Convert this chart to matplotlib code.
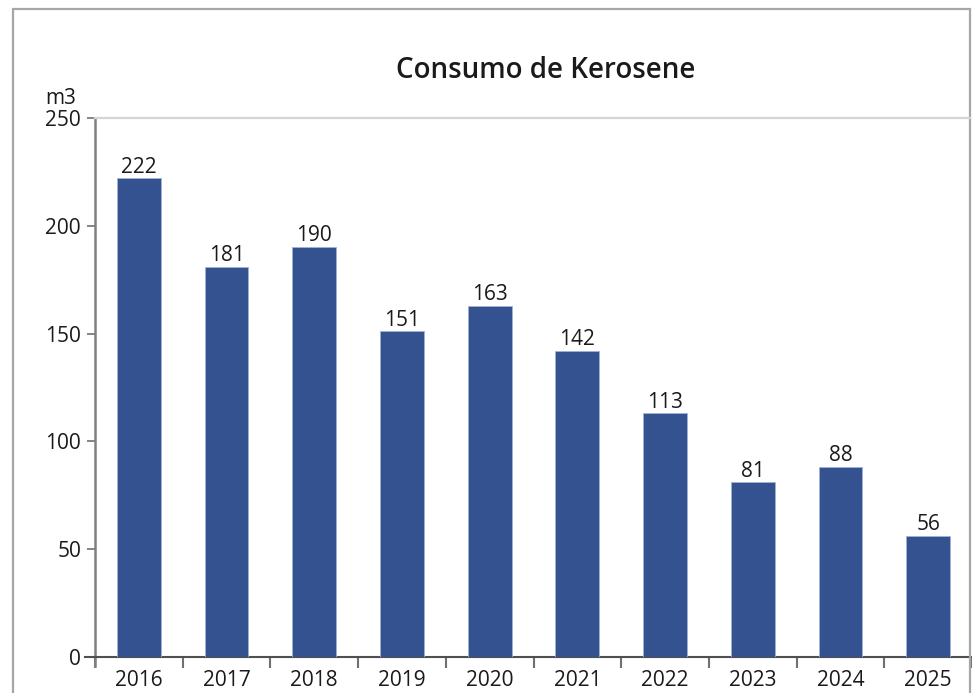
import matplotlib
matplotlib.use("Agg")
import matplotlib.pyplot as plt
from matplotlib.patches import Rectangle
from matplotlib.lines import Line2D

years = ["2016", "2017", "2018", "2019", "2020", "2021", "2022", "2023", "2024", "2025"]
values = [222, 181, 190, 151, 163, 142, 113, 81, 88, 56]
yticks = [0, 50, 100, 150, 200, 250]
title = "Consumo de Kerosene"
unit = "m3"

W, H = 972, 693
fig = plt.figure(figsize=(W / 100, H / 100), dpi=100)
fig.patch.set_facecolor("white")
font = ["Open Sans", "DejaVu Sans"]
tc = "#1a1a1a"
fs = 15

# outer frame
fig.add_artist(Rectangle((13 / W, -0.05), (970 - 13) / W, (H - 9) / H + 0.05,
                         transform=fig.transFigure, fill=False,
                         edgecolor="#a6a6a6", linewidth=1.6))

left, right = 95, 972
top, bottom = 118, 657
ax = fig.add_axes([left / W, (H - bottom) / H, (right - left) / W, (bottom - top) / H])
ax.patch.set_alpha(0)

for s in ["top", "right"]:
    ax.spines[s].set_visible(False)
ax.spines["left"].set_color("#808080")
ax.spines["left"].set_linewidth(1.8)
ax.spines["left"].set_bounds(-4, 250)
ax.spines["bottom"].set_color("#505050")
ax.spines["bottom"].set_linewidth(1.5)
ax.spines["bottom"].set_position(("data", 0))

x = list(range(len(years)))
ax.bar(x, values, width=0.5, color="#34528f", edgecolor="#9fb3d6", linewidth=0.6, zorder=3)
for xi, v in zip(x, values):
    ax.text(xi, v + 0.4, str(v), ha="center", va="bottom", fontsize=fs,
            color=tc, family=font)

ax.set_xlim(-0.5, len(years) - 0.5)
ax.set_ylim(0, 250)
ax.set_yticks(yticks, [str(t) for t in yticks])
ax.set_xticks(x, years)
ax.set_xticks([i + 0.5 for i in range(-1, len(years))], minor=True)
ax.tick_params(axis="both", which="major", labelsize=fs, labelcolor=tc,
               labelfontfamily="Open Sans")
ax.tick_params(axis="x", which="major", length=0, pad=9.5)
ax.tick_params(axis="x", which="minor", length=8, width=1.5, color="#707070", direction="out")
ax.tick_params(axis="y", length=6, width=1.2, color="#707070", pad=4)

# x axis extension to the left and top grey line
fig.add_artist(Line2D([85 / W, left / W], [(H - bottom) / H] * 2, color="#505050", linewidth=1.5))
fig.add_artist(Line2D([left / W, 970 / W], [(H - top) / H] * 2, color="#d4d4d4", linewidth=1.6))

fig.text(546 / W, (H - 70) / H, title, ha="center", va="center", fontsize=20,
         fontweight="semibold", color=tc, family=font)
fig.text(61 / W, (H - 98) / H, unit, ha="center", va="center", fontsize=fs,
         color=tc, family=font)

fig.savefig("out.png", dpi=100)
